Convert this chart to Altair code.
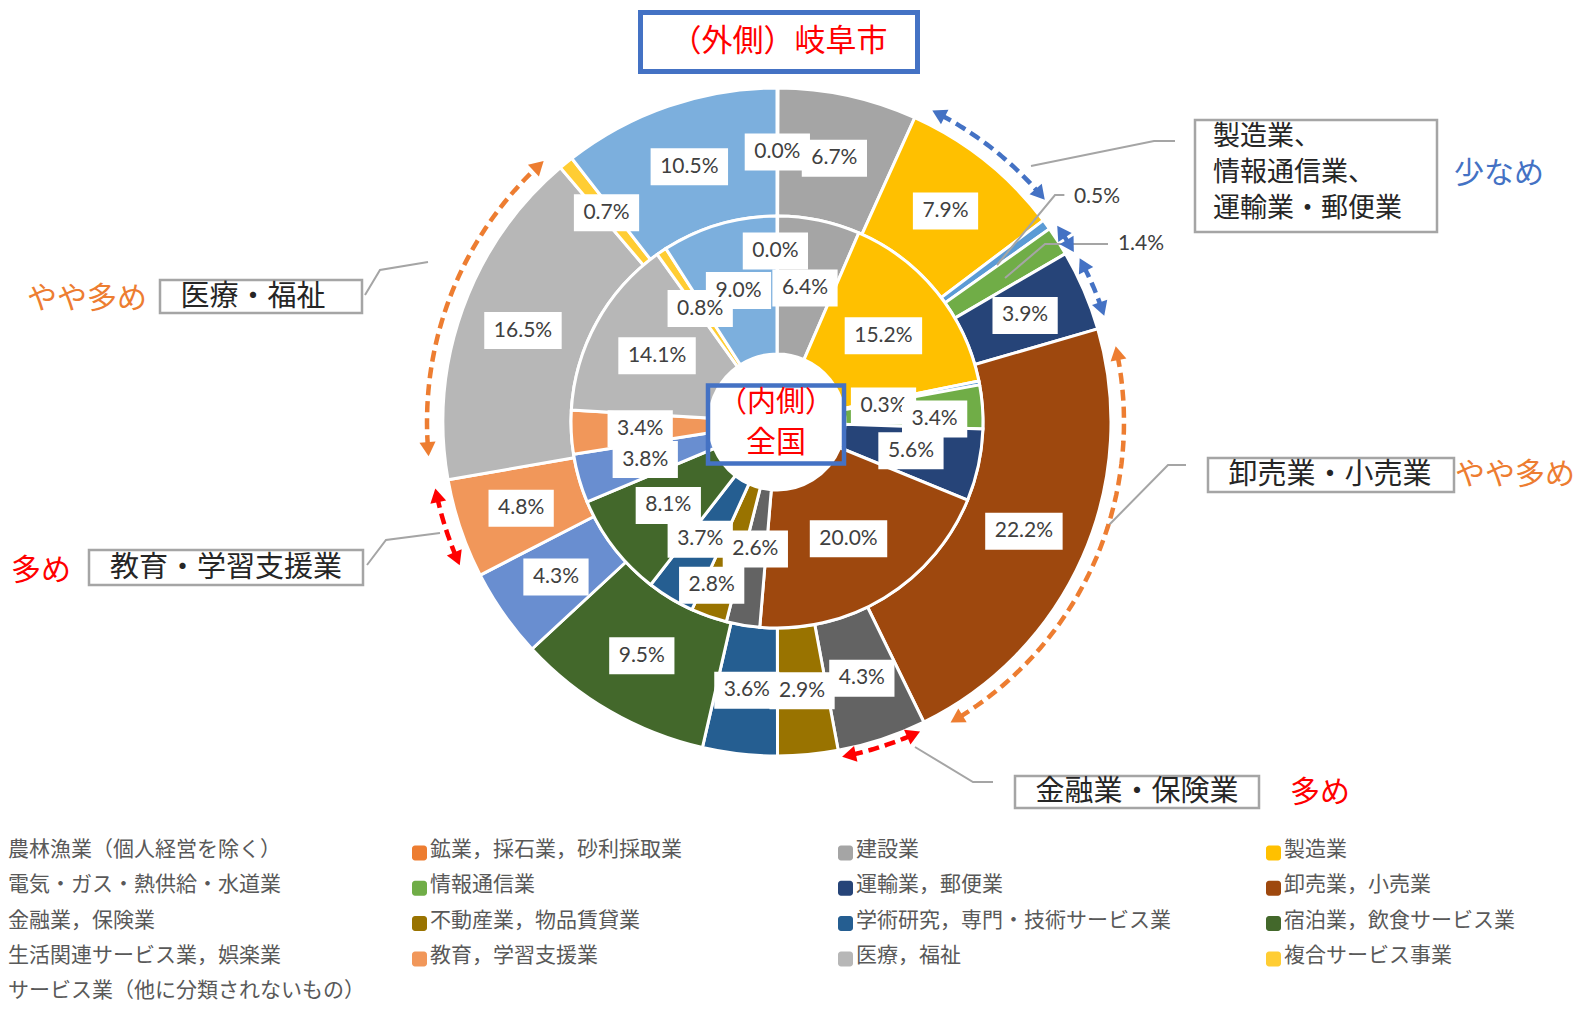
import numpy as np
import pandas as pd
import altair as alt

# ---------------- chart values ----------------
categories = [
    "農林漁業（個人経営を除く）", "鉱業，採石業，砂利採取業", "建設業", "製造業",
    "電気・ガス・熱供給・水道業", "情報通信業", "運輸業，郵便業", "卸売業，小売業",
    "金融業，保険業", "不動産業，物品賃貸業", "学術研究，専門・技術サービス業", "宿泊業，飲食サービス業",
    "生活関連サービス業，娯楽業", "教育，学習支援業", "医療，福祉", "複合サービス事業",
    "サービス業（他に分類されないもの）",
]
colors = ["#4472C4", "#ED7D31", "#A5A5A5", "#FFC000", "#5B9BD5", "#70AD47",
          "#264478", "#9E480E", "#636363", "#997300", "#255E91", "#43682B",
          "#698ED0", "#F1975A", "#B7B7B7", "#FFCD33", "#7CAFDD"]
gifu_pct = [0.04, 0.01, 6.7, 7.9, 0.5, 1.4, 3.9, 22.2, 4.3, 2.9, 3.6, 9.5, 4.3, 4.8, 16.5, 0.7, 10.5]
national_pct = [0.04, 0.01, 6.4, 15.2, 0.3, 3.4, 5.6, 20.0, 2.6, 2.8, 3.7, 8.1, 3.8, 3.4, 14.1, 0.8, 9.0]

# ---------------- layout (page pixels, page margin 8) ----------------
W, H = 1570, 995
OFF = 8
CX, CY = 777 - OFF, 422 - OFF
R_OUT, R_MID, R_HOLE = 334, 206, 68
R_LAB_OUT, R_LAB_IN = 270, 137

XS = alt.Scale(domain=[0, W], range=[0, W], nice=False, zero=False)
YS = alt.Scale(domain=[0, H], range=[0, H], nice=False, zero=False)


def xe(f):
    return alt.X(f"{f}:Q", scale=XS, axis=None)


def ye(f):
    return alt.Y(f"{f}:Q", scale=YS, axis=None)


# ---------------- rings ----------------
def ring_df(vals):
    v = np.asarray(vals, float)
    return pd.DataFrame({"cat": categories, "idx": np.arange(len(v)), "frac": v / v.sum()})


color_enc = alt.Color("cat:N", scale=alt.Scale(domain=categories, range=colors), legend=None)
theta_enc = alt.Theta("frac:Q", stack=True, scale=alt.Scale(domain=[0, 1], range=[0, 2 * np.pi]))

outer = alt.Chart(ring_df(gifu_pct)).mark_arc(
    outerRadius=R_OUT, innerRadius=R_MID, stroke="white", strokeWidth=3
).encode(theta=theta_enc, order=alt.Order("idx:Q"), color=color_enc,
         x=alt.value(CX), y=alt.value(CY))

inner = alt.Chart(ring_df(national_pct)).mark_arc(
    outerRadius=R_MID, innerRadius=R_HOLE, stroke="white", strokeWidth=3
).encode(theta=theta_enc, order=alt.Order("idx:Q"), color=color_enc,
         x=alt.value(CX), y=alt.value(CY))

# ---------------- data labels ----------------
hidden = {("outer", 1), ("inner", 0)}
under = {("outer", 0), ("inner", 4)}
shift = {("inner", 1): (-2, -34), ("inner", 4): (-28, 10), ("inner", 5): (21, 7),
         ("inner", 8): (1, -8), ("inner", 9): (-20, 34), ("inner", 10): (-6, 0)}
fixed = {("outer", 4): (1097 - OFF, 197 - OFF), ("outer", 5): (1141 - OFF, 244 - OFF)}
FS_LAB = 21


def text_w(s):
    w = 0
    for ch in s:
        w += 0.58 if ch.isdigit() else (0.26 if ch == "." else 0.83)
    return w * FS_LAB


rows = []
for ring, vals, rlab in (("inner", national_pct, R_LAB_IN), ("outer", gifu_pct, R_LAB_OUT)):
    v = np.asarray(vals, float)
    frac = v / v.sum()
    mid = np.cumsum(frac) - frac / 2
    ang = 2 * np.pi * mid
    for i in range(len(v)):
        key = (ring, i)
        if key in hidden:
            continue
        x = CX + rlab * np.sin(ang[i])
        y = CY - rlab * np.cos(ang[i])
        if key in fixed:
            x, y = fixed[key]
        elif key in shift:
            x += shift[key][0]
            y += shift[key][1]
        t = f"{v[i]:.1f}%"
        bw = text_w(t) + 18
        rows.append(dict(text=t, x=x, y=y, x0=x - bw / 2, x1=x + bw / 2,
                         y0=y - 18.5, y1=y + 18.5, grp=0 if key in under else 1))
labels = pd.DataFrame(rows)


def label_layers(df):
    box = alt.Chart(df).mark_rect(color="white").encode(
        x=xe("x0"), x2=alt.X2("x1:Q"), y=ye("y0"), y2=alt.Y2("y1:Q"))
    txt = alt.Chart(df).mark_text(font="Lato", fontSize=FS_LAB, color="#404040",
                                  align="center", baseline="middle").encode(
        x=xe("x"), y=ye("y"), text="text:N")
    return [box, txt]


# ---------------- leader lines ----------------
leaders = [
    [(1031, 166), (1154, 141), (1175, 141)],
    [(428, 262), (380, 270), (365, 295)],
    [(440, 533), (386, 540), (367, 565)],
    [(1106, 528), (1168, 465), (1186, 465)],
    [(915, 747), (973, 782), (993, 782)],
    [(997, 265), (1055, 195), (1065, 195)],
    [(1005, 278), (1045, 244), (1108, 244)],
]
lead_df = pd.DataFrame([dict(lid=j, k=k, x=p[0] - OFF, y=p[1] - OFF)
                        for j, pts in enumerate(leaders) for k, p in enumerate(pts)])
lead_layer = alt.Chart(lead_df).mark_line(color="#A5A5A5", strokeWidth=2).encode(
    x=xe("x"), y=ye("y"), detail="lid:N", order="k:Q")

# ---------------- dashed double arrows around the outer ring ----------------
arrows = [  # colour, start angle, end angle (deg clockwise from top), radius
    ("#4472C4", 26.5, 50.3, 348),
    ("#4472C4", 55.0, 60.2, 342),
    ("#4472C4", 61.6, 72.0, 344),
    ("#ED7D31", 77.4, 150.0, 347),
    ("#FF0000", 155.2, 169.0, 341),
    ("#FF0000", 245.7, 259.0, 348),
    ("#ED7D31", 264.4, 318.2, 350),
]
arc_rows, head_rows = [], []
for j, (col, a0, a1, r) in enumerate(arrows):
    trim = np.degrees(10 / r)
    ts = np.linspace(a0 + trim, a1 - trim, 40)
    for k, t in enumerate(ts):
        arc_rows.append(dict(aid=j, k=k, col=col, x=CX + r * np.sin(np.radians(t)),
                             y=CY - r * np.cos(np.radians(t))))
    d = np.degrees(7 / r)
    for t, rot in ((a1 - d, a1 - d + 90), (a0 + d, a0 + d + 270)):
        head_rows.append(dict(col=col, x=CX + r * np.sin(np.radians(t)),
                              y=CY - r * np.cos(np.radians(t)), rot=rot % 360))
arc_line = alt.Chart(pd.DataFrame(arc_rows)).mark_line(strokeWidth=4.5, strokeDash=[11, 6]).encode(
    x=xe("x"), y=ye("y"), detail="aid:N", order="k:Q", color=alt.Color("col:N", scale=None))
heads = alt.Chart(pd.DataFrame(head_rows)).mark_point(
    shape="triangle-up", filled=True, size=260, opacity=1, strokeWidth=0).encode(
    x=xe("x"), y=ye("y"), angle=alt.Angle("rot:Q", scale=None), color=alt.Color("col:N", scale=None))

# ---------------- annotation boxes and texts ----------------
boxes = pd.DataFrame([
    dict(x0=640.5, y0=12.5, x1=917.5, y1=71.5, sc="#4472C4", sw=5),
    dict(x0=708, y0=385.5, x1=844, y1=463.5, sc="#4472C4", sw=4.5),
    dict(x0=1195, y0=120, x1=1437, y1=232, sc="#A5A5A5", sw=2.5),
    dict(x0=160, y0=280, x1=362, y1=313, sc="#A5A5A5", sw=2.5),
    dict(x0=89, y0=550, x1=363, y1=585, sc="#A5A5A5", sw=2.5),
    dict(x0=1208, y0=458, x1=1454, y1=492, sc="#A5A5A5", sw=2.5),
    dict(x0=1015, y0=776, x1=1259, y1=808, sc="#A5A5A5", sw=2.5),
])
for c in ("x0", "x1", "y0", "y1"):
    boxes[c] = boxes[c] - OFF
box_layer = alt.Chart(boxes).mark_rect(filled=False).encode(
    x=xe("x0"), x2=alt.X2("x1:Q"), y=ye("y0"), y2=alt.Y2("y1:Q"),
    color=alt.Color("sc:N", scale=None), strokeWidth=alt.StrokeWidth("sw:Q", scale=None))

ann_center = pd.DataFrame([
    dict(t="（外側）岐阜市", x=779, y=42, c="#FF0000", s=31),
    dict(t="（内側）", x=776, y=403, c="#FF0000", s=29),
    dict(t="全国", x=776, y=443, c="#FF0000", s=30),
    dict(t="医療・福祉", x=253, y=297, c="#262626", s=29),
    dict(t="教育・学習支援業", x=226, y=568, c="#262626", s=29),
    dict(t="卸売業・小売業", x=1330, y=475, c="#262626", s=29),
    dict(t="金融業・保険業", x=1137, y=792, c="#262626", s=29),
    dict(t="少なめ", x=1499, y=174, c="#4472C4", s=30),
    dict(t="やや多め", x=87, y=299, c="#ED7D31", s=30),
    dict(t="多め", x=41, y=571, c="#FF0000", s=30),
    dict(t="やや多め", x=1515, y=475, c="#ED7D31", s=30),
    dict(t="多め", x=1320, y=793, c="#FF0000", s=30),
])
ann_center["x"] -= OFF
ann_center["y"] -= OFF
ann_left = pd.DataFrame([
    dict(t="製造業、", x=1213, y=136.5, c="#262626", s=27),
    dict(t="情報通信業、", x=1213, y=172.5, c="#262626", s=27),
    dict(t="運輸業・郵便業", x=1213, y=208.5, c="#262626", s=27),
])
ann_left["x"] -= OFF
ann_left["y"] -= OFF


def jp_text(df, align):
    return alt.Chart(df).mark_text(font="Noto Sans CJK JP", align=align, baseline="middle").encode(
        x=xe("x"), y=ye("y"), text="t:N",
        color=alt.Color("c:N", scale=None), size=alt.Size("s:Q", scale=None))


# ---------------- legend (4 columns, row-major) ----------------
col_sw = [-10, 412, 838, 1266]
leg_rows = []
for i, (cat, colr) in enumerate(zip(categories, colors)):
    r, c = divmod(i, 4)
    ty = 842 + 35.3 * r
    sx = col_sw[c] - OFF
    leg_rows.append(dict(cat=cat, col=colr, sx0=sx, sx1=sx + 15, sy0=ty - 4.5, sy1=ty + 10.5,
                         tx=max(sx + 18, 0), ty=ty))
leg = pd.DataFrame(leg_rows)
leg_sw = alt.Chart(leg).mark_rect(cornerRadius=3).encode(
    x=xe("sx0"), x2=alt.X2("sx1:Q"), y=ye("sy0"), y2=alt.Y2("sy1:Q"),
    color=alt.Color("col:N", scale=None))
leg_tx = alt.Chart(leg).mark_text(font="Noto Sans CJK JP", fontSize=21, color="#595959",
                                  align="left", baseline="middle").encode(
    x=xe("tx"), y=ye("ty"), text="cat:N")

layers = [outer, inner, lead_layer, arc_line, heads]
layers += label_layers(labels[labels.grp == 0])
layers += label_layers(labels[labels.grp == 1])
layers += [box_layer, jp_text(ann_center, "center"), jp_text(ann_left, "left"), leg_sw, leg_tx]

chart = alt.layer(*layers).properties(
    width=W, height=H, autosize=alt.AutoSizeParams(type="none"), padding=0
).configure_view(strokeWidth=0)

chart.save("out.html", embed_options={"renderer": "svg", "actions": False})
